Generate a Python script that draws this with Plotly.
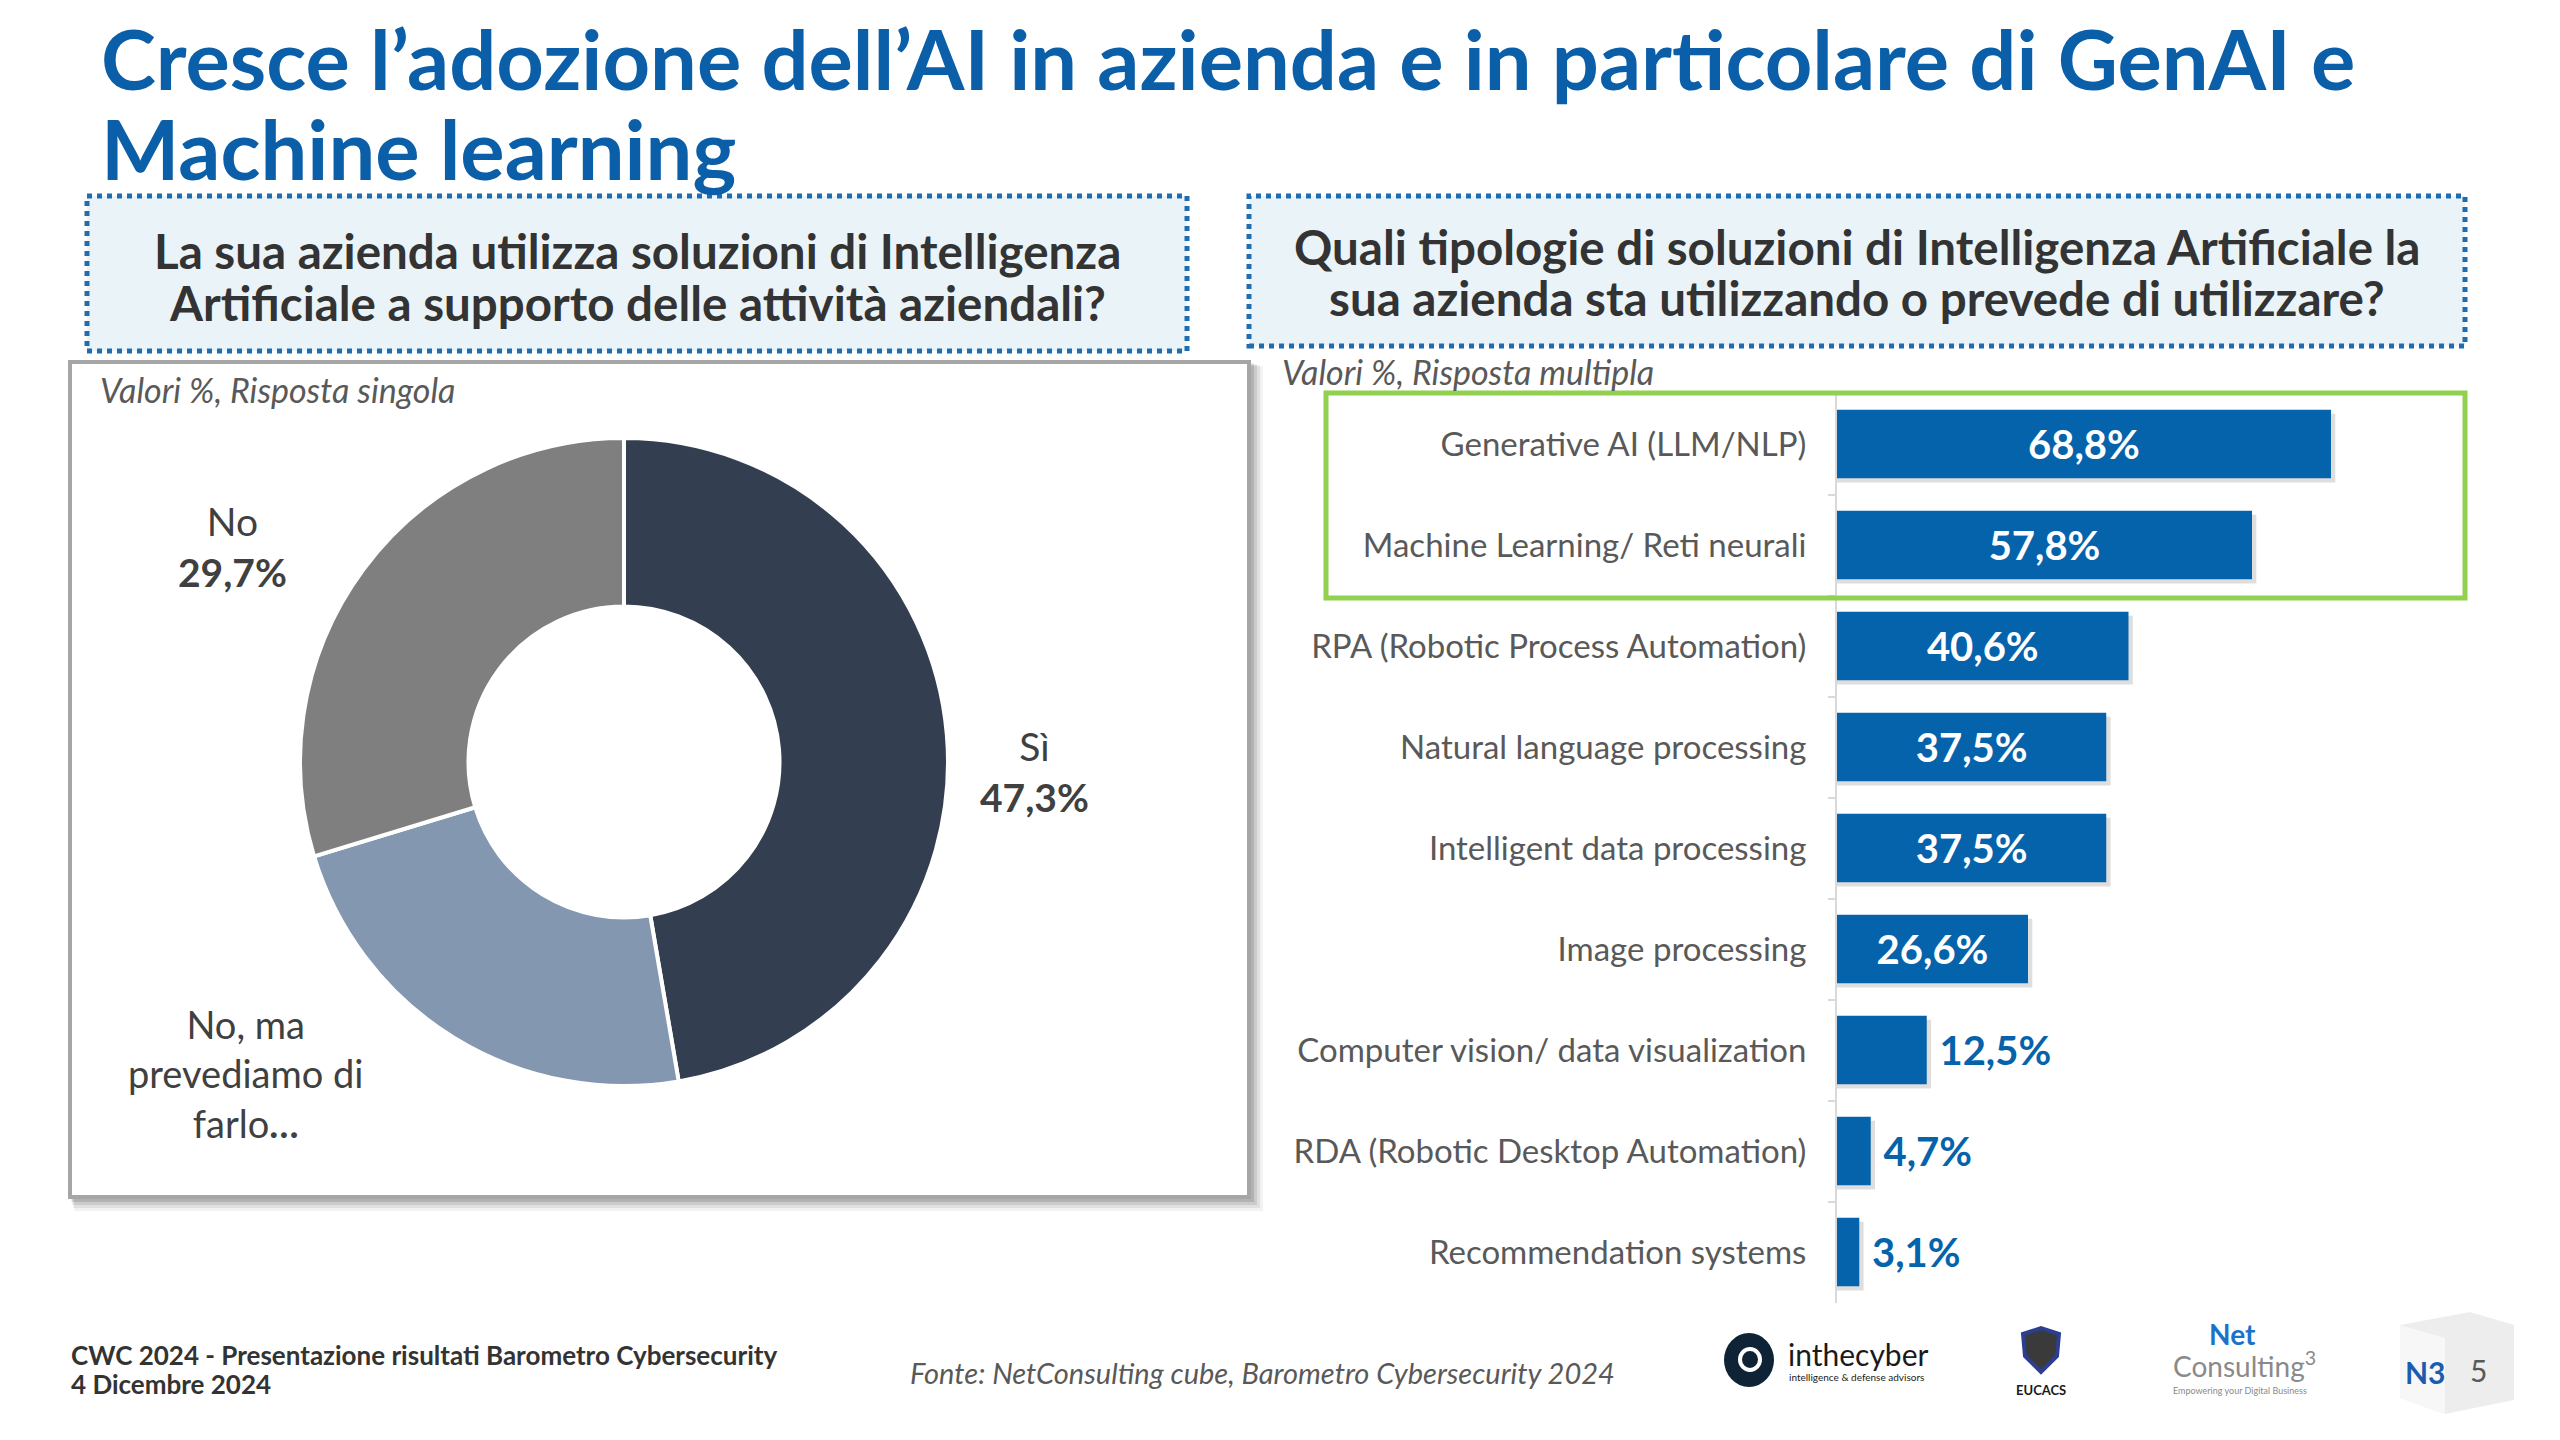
import plotly.graph_objects as go

W, H = 2560, 1440

# ---------------- data ----------------
pie_labels = ["Sì", "No, ma prevediamo di farlo…", "No"]
pie_values = [47.3, 23.0, 29.7]
pie_colors = ["#333F50", "#8497B0", "#7F7F7F"]

bar_categories = [
    "Generative AI (LLM/NLP)",
    "Machine Learning/ Reti neurali",
    "RPA (Robotic Process Automation)",
    "Natural language processing",
    "Intelligent data processing",
    "Image processing",
    "Computer vision/ data visualization",
    "RDA (Robotic Desktop Automation)",
    "Recommendation systems",
]
bar_values = [68.8, 57.8, 40.6, 37.5, 37.5, 26.6, 12.5, 4.7, 3.1]

title_lines = ["Cresce l’adozione dell’AI in azienda e in particolare di GenAI e",
               "Machine learning"]
left_question = ["La sua azienda utilizza soluzioni di Intelligenza",
                 "Artificiale a supporto delle attività aziendali?"]
right_question = ["Quali tipologie di soluzioni di Intelligenza Artificiale la",
                  "sua azienda sta utilizzando o prevede di utilizzare?"]

BLUE = "#0563AB"
FONT = "Lato"


def px(x):
    return x / W


def py(y):
    return 1 - y / H


def pct(v):
    return f"{v:.1f}".replace(".", ",") + "%"


fig = go.Figure()

# ---------------- donut ----------------
cx, cy, r = 624, 762, 324
fig.add_trace(go.Pie(
    labels=pie_labels, values=pie_values, hole=0.48, sort=False,
    direction="clockwise", rotation=0,
    marker=dict(colors=pie_colors, line=dict(color="white", width=4)),
    textinfo="none", hoverinfo="skip", showlegend=False,
    domain=dict(x=[px(cx - r), px(cx + r)], y=[py(cy + r), py(cy - r)]),
))

# ---------------- bars ----------------
bar_pos = ["inside" if v > 20 else "outside" for v in bar_values]
bar_text = [pct(v) if p == "inside" else " " + pct(v) for v, p in zip(bar_values, bar_pos)]

# soft shadow behind bars
fig.add_trace(go.Bar(
    y=bar_categories, x=[v + 0.6 for v in bar_values], orientation="h",
    width=0.68, offset=-0.30,
    marker=dict(color="rgba(0,0,0,0.13)", line=dict(width=0)),
    hoverinfo="skip", showlegend=False, xaxis="x", yaxis="y",
))
fig.add_trace(go.Bar(
    y=bar_categories, x=bar_values, orientation="h",
    width=0.68, offset=-0.34,
    marker=dict(color=BLUE, line=dict(width=0)),
    text=bar_text, textposition=bar_pos, insidetextanchor="middle",
    insidetextfont=dict(color="white", size=40, family=FONT, weight="bold"),
    outsidetextfont=dict(color=BLUE, size=40, family=FONT, weight="bold"),
    constraintext="none", cliponaxis=False,
    hoverinfo="skip", showlegend=False, xaxis="x", yaxis="y",
))

axis_x0 = 1837
axis_x1 = 2465
scale = 7.18  # px per %
fig.update_layout(
    width=W, height=H, margin=dict(l=0, r=0, t=0, b=0),
    paper_bgcolor="white", plot_bgcolor="rgba(0,0,0,0)",
    barmode="overlay",
    font=dict(family=FONT, color="#404040"),
    xaxis=dict(domain=[px(axis_x0), px(axis_x1)], range=[0, (axis_x1 - axis_x0) / scale],
               showgrid=False, zeroline=False, showticklabels=False, showline=False,
               fixedrange=True),
    yaxis=dict(domain=[py(1302.5), py(393.5)], range=[8.5, -0.5],
               type="category", categoryorder="array", categoryarray=bar_categories,
               showgrid=False, zeroline=False,
               showline=True, linecolor="#D9D9D9", linewidth=2,
               ticks="outside", tickson="boundaries", ticklen=7, tickcolor="#D9D9D9",
               tickwidth=2, ticklabelstandoff=22,
               tickfont=dict(family=FONT, size=33, color="#595959"),
               anchor="x", fixedrange=True),
)

shapes = []
# left panel shadow + frame
for i, a in enumerate([0.05, 0.07, 0.09, 0.12]):
    d = 14 - i * 3
    shapes.append(dict(type="rect", xref="paper", yref="paper",
                       x0=px(70 + d * 0.3), x1=px(1249 + d), y0=py(1197 + d), y1=py(362 + d * 0.3),
                       line=dict(width=0), fillcolor=f"rgba(0,0,0,{a})", layer="below"))
shapes.append(dict(type="rect", xref="paper", yref="paper",
                   x0=px(70), x1=px(1249), y0=py(1197), y1=py(362),
                   line=dict(color="#A6A6A6", width=4), fillcolor="white", layer="below"))
# question boxes
for (x0, x1, y0, y1) in [(87, 1187, 196, 351), (1249, 2465, 196, 346)]:
    shapes.append(dict(type="rect", xref="paper", yref="paper",
                       x0=px(x0), x1=px(x1), y0=py(y1), y1=py(y0),
                       line=dict(color="#1F6DB0", width=5, dash="dot"),
                       fillcolor="#EAF4F8", layer="below"))
# green highlight box
shapes.append(dict(type="rect", xref="paper", yref="paper",
                   x0=px(1326), x1=px(2465), y0=py(598), y1=py(393),
                   line=dict(color="#92D050", width=5), fillcolor="rgba(0,0,0,0)", layer="above"))

# logos (approximate)
shapes.append(dict(type="circle", xref="paper", yref="paper",
                   x0=px(1724), x1=px(1774), y0=py(1387), y1=py(1333),
                   line=dict(width=0), fillcolor="#0F2336", layer="above"))
shapes.append(dict(type="circle", xref="paper", yref="paper",
                   x0=px(1740), x1=px(1760), y0=py(1370), y1=py(1349),
                   line=dict(color="white", width=4), fillcolor="rgba(0,0,0,0)", layer="above"))
shapes.append(dict(type="path", xref="paper", yref="paper",
                   path=(f"M {px(2023)} {py(1334)} L {px(2041)} {py(1328)} L {px(2059)} {py(1334)} "
                         f"L {px(2057)} {py(1356)} L {px(2041)} {py(1372)} L {px(2025)} {py(1356)} Z"),
                   line=dict(color="#2C3E91", width=4), fillcolor="#3A3A3A", layer="above"))
# page cube
shapes.append(dict(type="path", xref="paper", yref="paper",
                   path=(f"M {px(2400)} {py(1325)} L {px(2470)} {py(1312)} L {px(2514)} {py(1325)} "
                         f"L {px(2514)} {py(1400)} L {px(2445)} {py(1414)} L {px(2400)} {py(1398)} Z"),
                   line=dict(width=0), fillcolor="#EDEDED", layer="below"))
shapes.append(dict(type="path", xref="paper", yref="paper",
                   path=(f"M {px(2400)} {py(1325)} L {px(2445)} {py(1338)} L {px(2445)} {py(1414)} "
                         f"L {px(2400)} {py(1398)} Z"),
                   line=dict(width=0), fillcolor="#F7F7F7", layer="below"))

annotations = []


def ann(text, x, y, size, color="#404040", xanchor="center", yanchor="middle",
        bold=False, italic=False, align="center", family=FONT):
    annotations.append(dict(
        text=text, x=px(x), y=py(y), xref="paper", yref="paper",
        xanchor=xanchor, yanchor=yanchor, align=align, showarrow=False,
        font=dict(family=family, size=size, color=color,
                  weight="bold" if bold else "normal",
                  style="italic" if italic else "normal"),
    ))


# title
ann(title_lines[0], 99, 58, 83, color="#0B5FA8", xanchor="left", bold=True, align="left")
ann(title_lines[1], 99, 148, 83, color="#0B5FA8", xanchor="left", bold=True, align="left")
# question headers
ann(left_question[0], 637, 250, 47.5, color="#333333", bold=True)
ann(left_question[1], 637, 302, 47.5, color="#333333", bold=True)
ann(right_question[0], 1857, 247, 47.5, color="#333333", bold=True)
ann(right_question[1], 1857, 298, 47.5, color="#333333", bold=True)
# sub notes
ann("Valori %, Risposta singola", 98, 390, 34, color="#595959", xanchor="left", italic=True)
ann("Valori %, Risposta multipla", 1280, 372, 34, color="#595959", xanchor="left", italic=True)

# donut labels
ann(f"{pie_labels[0]}<br><b>{pct(pie_values[0])}</b>", 1034, 771, 39)
ann(f"{pie_labels[2]}<br><b>{pct(pie_values[2])}</b>", 232, 546, 39)
ann("No, ma<br>prevediamo di<br>farlo<b>…</b>", 245, 1073, 38)

# footer
ann("<b>CWC 2024 - Presentazione risultati Barometro Cybersecurity</b>",
    69, 1355, 26, color="#333333", xanchor="left", align="left")
ann("<b>4 Dicembre 2024</b>", 69, 1384, 26, color="#333333", xanchor="left", align="left")
ann("Fonte: NetConsulting cube, Barometro Cybersecurity 2024", 1262, 1372, 29,
    color="#595959", italic=True)

# logo texts
ann("inthecyber", 1786, 1354, 30, color="#1A1A1A", xanchor="left")
ann("intelligence & defense advisors", 1787, 1377, 10, color="#1A1A1A", xanchor="left")
ann("EUCACS", 2041, 1390, 13, color="#1A1A1A", bold=True)
ann("Net", 2232, 1334, 28, color="#1A73C8", bold=True)
ann("Consulting<sup>3</sup>", 2244, 1364, 28, color="#8A8A8A")
ann("Empowering your Digital Business", 2240, 1390, 9, color="#8A8A8A")
ann("N3", 2425, 1372, 30, color="#1A5DB0", bold=True)
ann("5", 2478, 1370, 30, color="#595959")

fig.update_layout(shapes=shapes, annotations=annotations)

fig.write_html("out.html")
